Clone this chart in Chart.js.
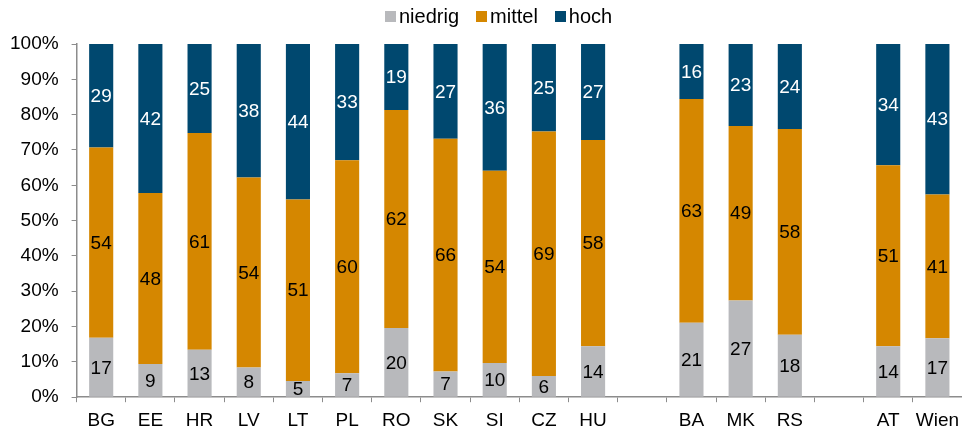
<!DOCTYPE html>
<html>
<head>
<meta charset="utf-8">
<script src="https://cdn.jsdelivr.net/npm/chart.js@4.4.1/dist/chart.umd.min.js"></script>
<style>
  html, body { margin: 0; padding: 0; background: #fff; }
  #wrap { position: relative; width: 962px; height: 432px; }
  #legend {
    position: absolute; top: 5px; left: 385px;
    display: flex; align-items: center;
    font: 20px Arial, "Liberation Sans", sans-serif; color: #000;
  }
  #legend .item { display: flex; align-items: center; margin-right: 17px; }
  #legend .box { width: 11px; height: 11px; margin-right: 3px; }
</style>
</head>
<body>
<div id="wrap">
  <canvas id="levelChart"></canvas>
  <div id="legend"></div>
</div>
<script>
// categories (empty strings are the gaps between the country groups)
const categories = ['BG', 'EE', 'HR', 'LV', 'LT', 'PL', 'RO', 'SK', 'SI', 'CZ', 'HU', '', 'BA', 'MK', 'RS', '', 'AT', 'Wien'];

// shares in %
const niedrig = [16.8, 9.4, 13.4, 8.4, 4.6, 6.8, 19.6, 7.3, 9.7, 6.0, 14.4, null, 21.1, 27.4, 17.7, null, 14.4, 16.7];
const mittel  = [53.9, 48.4, 61.4, 53.8, 51.4, 60.3, 61.7, 65.9, 54.4, 69.2, 58.4, null, 63.3, 49.4, 58.2, null, 51.3, 40.7];
const hoch    = [29.3, 42.2, 25.2, 37.8, 44.0, 32.9, 18.7, 26.8, 35.9, 24.8, 27.2, null, 15.6, 23.2, 24.1, null, 34.3, 42.6];

const FONT = 'Arial, "Liberation Sans", sans-serif';
const axisGray = '#8c8c8c';

// draws the value in the middle of each segment
const segmentLabels = {
    id: 'segmentLabels',
    afterDatasetsDraw(chart) {
        const ctx = chart.ctx;
        ctx.save();
        ctx.font = '19px ' + FONT;
        ctx.textAlign = 'center';
        ctx.textBaseline = 'middle';
        chart.data.datasets.forEach((ds, i) => {
            const meta = chart.getDatasetMeta(i);
            meta.data.forEach((bar, j) => {
                const v = ds.data[j];
                if (v === null || v === undefined) return;
                ctx.fillStyle = ds.labelColor;
                ctx.fillText(Math.round(v), bar.x, (bar.y + bar.base) / 2 + 1);
            });
        });
        ctx.restore();
    }
};

const ctx = document.getElementById('levelChart').getContext('2d');
const chart = new Chart(ctx, {
    type: 'bar',
    data: {
        labels: categories,
        datasets: [
            { label: 'niedrig', data: niedrig, backgroundColor: '#b8b9bc', labelColor: '#000' },
            { label: 'mittel', data: mittel, backgroundColor: '#d58700', labelColor: '#000' },
            { label: 'hoch', data: hoch, backgroundColor: '#00486f', labelColor: '#fff' }
        ]
    },
    options: {
        responsive: true,
        maintainAspectRatio: false,
        animation: false,
        layout: { padding: { left: -3, right: 0, top: 44, bottom: -7 } },
        datasets: {
            bar: { barPercentage: 0.49, categoryPercentage: 1.0 }
        },
        plugins: {
            legend: { display: false },
            tooltip: { enabled: false }
        },
        scales: {
            x: {
                stacked: true,
                grid: { drawOnChartArea: false, drawTicks: true, tickLength: 5, color: axisGray, offset: true },
                border: { color: axisGray, width: 1.5 },
                ticks: { color: '#000', padding: 7, autoSkip: false, maxRotation: 0, font: { family: FONT, size: 19 } },
                // let the axis run to the right edge
                afterFit: scale => { scale.paddingRight = 0; }
            },
            y: {
                stacked: true,
                min: 0,
                max: 100,
                grid: { drawOnChartArea: false, drawTicks: true, tickLength: 5, color: axisGray },
                border: { color: axisGray, width: 1.5 },
                ticks: {
                    stepSize: 10,
                    color: '#000',
                    padding: 13,
                    font: { family: FONT, size: 19 },
                    callback: v => v + '%'
                }
            }
        }
    },
    plugins: [segmentLabels]
});

// legend built from the chart's datasets
const legendEl = document.getElementById('legend');
chart.data.datasets.forEach(ds => {
    const item = document.createElement('div');
    item.className = 'item';
    const box = document.createElement('span');
    box.className = 'box';
    box.style.background = ds.backgroundColor;
    const text = document.createElement('span');
    text.textContent = ds.label;
    item.appendChild(box);
    item.appendChild(text);
    legendEl.appendChild(item);
});
</script>
</body>
</html>
